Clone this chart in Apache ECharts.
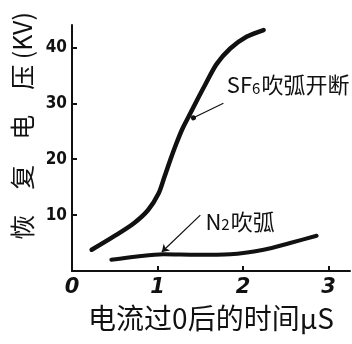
<!DOCTYPE html>
<html><head><meta charset="utf-8">
<script src="https://cdn.jsdelivr.net/npm/echarts@6/dist/echarts.min.js"></script>
<style>html,body{margin:0;padding:0;background:#fff}#c{width:352px;height:344px}</style>
</head><body><div id="c"></div>
<script>
// SF6 blowing arc: time after current zero (µs) vs recovery voltage (kV)
const sf6Time = [0.23, 0.48, 0.72, 0.89, 1.01, 1.08, 1.15, 1.22, 1.29, 1.37, 1.46, 1.56, 1.69, 1.85, 2.04, 2.24];
const sf6Volt = [3.8, 6.1, 8.5, 10.9, 13.8, 16.8, 19.9, 22.8, 25.4, 27.8, 30.5, 33.4, 37.0, 39.8, 41.9, 43.1];
// N2 blowing arc
const n2Time = [0.46, 0.76, 1.07, 1.46, 1.85, 2.24, 2.55, 2.86];
const n2Volt = [2.0, 2.6, 3.0, 2.9, 3.0, 3.8, 5.0, 6.3];
const xTicks = [0, 1, 2, 3];
const yTicks = [10, 20, 30, 40];
const xTitle = '电流过0后的时间μS';
const yTitle = '恢\u3000复\u3000电\u3000压 (KV)';

const ink = '#111';
const cjk = '"Noto Sans CJK SC", "Noto Sans", sans-serif';
const chart = echarts.init(document.getElementById('c'), null, {renderer: 'canvas'});
chart.setOption({
  backgroundColor: '#fff',
  animation: false,
  grid: {left: 72, right: 2, top: 25, bottom: 73},
  xAxis: {
    type: 'value', min: 0, max: 3.25,
    name: xTitle, nameLocation: 'middle', nameGap: 33,
    nameTextStyle: {fontSize: 28, color: ink, fontFamily: cjk},
    axisLine: {show: true, lineStyle: {color: ink, width: 2}},
    axisTick: {show: true, inside: true, length: 5, customValues: xTicks.slice(1), lineStyle: {color: ink, width: 2}},
    axisLabel: {customValues: xTicks, fontSize: 21, fontStyle: 'italic', fontWeight: 'bold', color: ink, margin: 6, fontFamily: 'DejaVu Sans'},
    splitLine: {show: false}
  },
  yAxis: {
    type: 'value', min: 0, max: 44,
    name: yTitle, nameLocation: 'middle', nameGap: 28, nameRotate: 90,
    nameTextStyle: {fontSize: 25, color: ink, fontFamily: cjk, padding: [0, 0, 0, 44]},
    axisLine: {show: true, lineStyle: {color: ink, width: 2}},
    axisTick: {show: true, inside: true, length: 5, customValues: yTicks, lineStyle: {color: ink, width: 2}},
    axisLabel: {customValues: yTicks, fontSize: 17, fontWeight: 'bold', color: ink, margin: 5, fontFamily: 'DejaVu Sans Condensed'},
    splitLine: {show: false}
  },
  series: [
    {
      type: 'line', name: 'SF6', smooth: 0.3, symbol: 'none',
      data: sf6Time.map((t, i) => [t, sf6Volt[i]]),
      lineStyle: {color: ink, width: 4.5, cap: 'round', join: 'round'},
      markLine: {
        silent: true, symbol: ['circle', 'none'], symbolSize: 5,
        lineStyle: {color: ink, width: 1.2, type: 'solid'},
        label: {show: false},
        data: [[{coord: [1.42, 27.4]}, {coord: [1.77, 30.0]}]]
      },
      markPoint: {
        silent: true, symbol: 'circle', symbolSize: 0,
        data: [{coord: [1.81, 33.3]}],
        label: {show: true, position: 'right', distance: 0, color: ink,
          formatter: '{a|SF}{s|6}{a|吹弧开断}',
          rich: {a: {fontSize: 22, fontFamily: cjk, color: ink}, s: {fontSize: 15, fontFamily: cjk, color: ink, padding: [6, 1, 0, 0]}}}
      }
    },
    {
      type: 'line', name: 'N2', smooth: 0.3, symbol: 'none',
      data: n2Time.map((t, i) => [t, n2Volt[i]]),
      lineStyle: {color: ink, width: 4, cap: 'round', join: 'round'},
      markLine: {
        silent: true, symbol: ['arrow', 'none'], symbolSize: 7,
        lineStyle: {color: ink, width: 1.2, type: 'solid'},
        label: {show: false},
        data: [[{coord: [1.05, 3.4]}, {coord: [1.50, 10.0]}]]
      },
      markPoint: {
        silent: true, symbol: 'circle', symbolSize: 0,
        data: [{coord: [1.56, 8.9]}],
        label: {show: true, position: 'right', distance: 0, color: ink,
          formatter: '{a|N}{s|2}{a|吹弧}',
          rich: {a: {fontSize: 22, fontFamily: cjk, color: ink}, s: {fontSize: 15, fontFamily: cjk, color: ink, padding: [6, 1, 0, 0]}}}
      }
    }
  ]
});
</script></body></html>
